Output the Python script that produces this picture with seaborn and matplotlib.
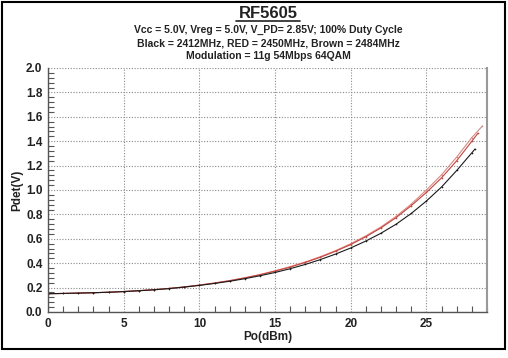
import pandas as pd
import numpy as np
import matplotlib
matplotlib.use("Agg")
import matplotlib.pyplot as plt
import seaborn as sns
from matplotlib.ticker import MultipleLocator
from matplotlib.patches import Rectangle

# Data
po_black = [0, 1, 2, 3, 4, 5, 6, 7, 8, 9, 10, 11, 12, 13, 14, 15, 16, 17, 18, 19, 20, 21, 22, 23, 24, 25, 26, 27, 28, 28.2]
pdet_black = [0.150, 0.152, 0.155, 0.158, 0.162, 0.167, 0.174, 0.182, 0.192, 0.204, 0.218, 0.234, 0.252, 0.273, 0.297, 0.324, 0.355, 0.390, 0.430, 0.475, 0.525, 0.582, 0.646, 0.720, 0.808, 0.910, 1.025, 1.160, 1.305, 1.335]

po_red = [0, 1, 2, 3, 4, 5, 6, 7, 8, 9, 10, 11, 12, 13, 14, 15, 16, 17, 18, 19, 20, 21, 22, 23, 24, 25, 26, 27, 28, 28.4]
pdet_red = [0.150, 0.152, 0.155, 0.158, 0.162, 0.168, 0.175, 0.183, 0.193, 0.205, 0.220, 0.237, 0.256, 0.279, 0.305, 0.335, 0.368, 0.406, 0.449, 0.498, 0.553, 0.617, 0.690, 0.774, 0.872, 0.980, 1.100, 1.240, 1.400, 1.465]

po_brown = [0, 1, 2, 3, 4, 5, 6, 7, 8, 9, 10, 11, 12, 13, 14, 15, 16, 17, 18, 19, 20, 21, 22, 23, 24, 25, 26, 27, 28, 28.7]
pdet_brown = [0.150, 0.152, 0.155, 0.158, 0.162, 0.168, 0.175, 0.183, 0.193, 0.206, 0.221, 0.238, 0.258, 0.281, 0.307, 0.338, 0.372, 0.410, 0.454, 0.503, 0.560, 0.624, 0.698, 0.784, 0.885, 1.000, 1.125, 1.270, 1.430, 1.525]

series = [
    ("2412MHz", po_black, pdet_black),
    ("2450MHz", po_red, pdet_red),
    ("2484MHz", po_brown, pdet_brown),
]
df = pd.concat(
    [pd.DataFrame({"Po": x, "Pdet": y, "freq": name}) for name, x, y in series],
    ignore_index=True,
)
palette = {"2412MHz": "#1a1a1a", "2450MHz": "#d0403a", "2484MHz": "#c89088"}

sns.set_style("white")
plt.rcParams["font.family"] = ["Liberation Sans", "DejaVu Sans"]

fig = plt.figure(figsize=(5.08, 3.58), dpi=100)
ax = fig.add_axes([48 / 508, 46 / 358, 439 / 508, 244 / 358])

sns.lineplot(data=df, x="Po", y="Pdet", hue="freq", palette=palette,
             hue_order=["2484MHz", "2450MHz", "2412MHz"],
             linewidth=0.8, marker="o", markersize=1.2, markeredgewidth=0,
             legend=False, ax=ax, sort=False)

ax.set_xlim(0, 29)
ax.set_ylim(0, 2.0)
ax.xaxis.set_major_locator(MultipleLocator(5))
ax.xaxis.set_minor_locator(MultipleLocator(1))
ax.yaxis.set_major_locator(MultipleLocator(0.2))
ax.yaxis.set_minor_locator(MultipleLocator(0.04))
ax.yaxis.set_major_formatter(matplotlib.ticker.FormatStrFormatter("%.1f"))
ax.grid(True, which="major", linestyle=(0, (1, 1.5)), color="#8a8a8a", linewidth=0.8)

for side in ["left", "bottom"]:
    ax.spines[side].set_color("#555555")
    ax.spines[side].set_linewidth(1.0)
ax.spines["right"].set_color("#999999")
ax.spines["right"].set_linewidth(1.5)
ax.spines["top"].set_visible(False)

ax.tick_params(which="major", direction="inout", length=6, width=0.8, color="#555555",
               labelsize=8.5, pad=1, labelcolor="#222222")
ax.tick_params(which="minor", direction="in", length=4, width=0.8, color="#555555",
               left=True, bottom=True)
for lab in ax.get_xticklabels() + ax.get_yticklabels():
    lab.set_fontweight("bold")

ax.set_xlabel("Po(dBm)", fontsize=8.5, fontweight="bold", labelpad=1, color="#222222")
ax.set_ylabel("Pdet(V)", fontsize=8.5, fontweight="bold", labelpad=2, color="#222222")

# Titles
fig.text(268 / 508, 1 - 13 / 358, "RF5605", ha="center", va="center",
         fontsize=12, fontweight="bold", color="#222222")
fig.add_artist(plt.Line2D([236 / 508, 300 / 508], [1 - 21 / 358, 1 - 21 / 358],
                          color="#222222", linewidth=1.2))
sub = ["Vcc = 5.0V, Vreg = 5.0V, V_PD= 2.85V; 100% Duty Cycle",
       "Black = 2412MHz, RED = 2450MHz, Brown = 2484MHz",
       "Modulation = 11g 54Mbps 64QAM"]
for i, s in enumerate(sub):
    fig.text(268 / 508, 1 - (30 + 13 * i) / 358, s, ha="center", va="center",
             fontsize=7.5, fontweight="bold", color="#222222")

# Outer border
fig.add_artist(Rectangle((2 / 508, 9 / 358), 503 / 508, 347 / 358,
                         transform=fig.transFigure, fill=False,
                         edgecolor="black", linewidth=1.5))

fig.savefig("out.png", dpi=100)
